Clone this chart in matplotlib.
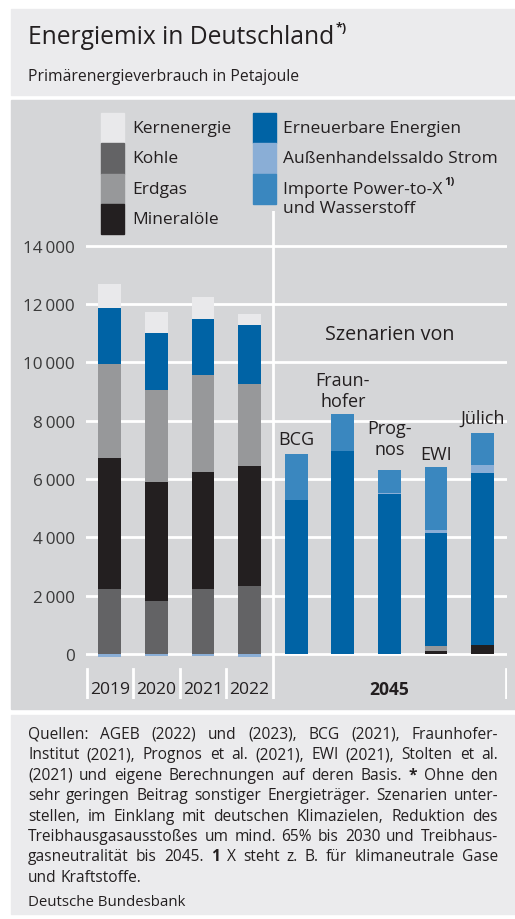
import matplotlib
matplotlib.use('Agg')
import matplotlib.pyplot as plt
from matplotlib.patches import Rectangle
from matplotlib.font_manager import FontProperties
import numpy as np

plt.rcParams['font.family'] = ['Open Sans', 'DejaVu Sans']

# data (Petajoule)
labels = ['2019', '2020', '2021', '2022', 'BCG', 'Fraun-\nhofer', 'Prog-\nnos', 'EWI', 'Jülich']
kohle = [2230, 1830, 2230, 2320, 0, 0, 0, 0, 0]
mineraloele = [4500, 4080, 4020, 4140, 0, 0, 0, 100, 320]
erdgas = [3210, 3140, 3320, 2790, 0, 0, 0, 160, 0]
erneuerbare = [1910, 1970, 1930, 2020, 5290, 6970, 5470, 3890, 5885]
strom = [-120, -65, -60, -100, 0, 0, 45, 115, 275]
ptx = [0, 0, 0, 0, 1570, 1250, 790, 2135, 1110]
kern = [830, 700, 750, 380, 0, 0, 0, 0, 0]

c_kern = '#e9e9eb'
c_kohle = '#636365'
c_erdgas = '#97989a'
c_oel = '#231f20'
c_ee = '#0063a5'
c_strom = '#8aaed6'
c_ptx = '#3a87bf'

txt = '#231f20'
W, H = 515, 920


def fx(x):
    return x / W


def fy(y):
    return 1 - y / H


fig = plt.figure(figsize=(W / 100, H / 100), dpi=100)
fig.patch.set_facecolor('white')

# background panels
for (x0, y0, x1, y1, col) in [(11, 10, 515, 96, '#ebebed'),
                              (11, 101, 515, 710, '#d5d6d8'),
                              (11, 716, 515, 915, '#ebebed')]:
    fig.add_artist(Rectangle((fx(x0), fy(y1)), fx(x1) - fx(x0), fy(y0) - fy(y1),
                             transform=fig.transFigure, color=col, zorder=0))

renderer = fig.canvas.get_renderer()


def text_w(s, size, weight='normal'):
    fp = FontProperties(family=['Open Sans', 'DejaVu Sans'], size=size, weight=weight)
    w, h, d = renderer.get_text_width_height_descent(s, fp, ismath=False)
    return w


# title
fig.text(fx(28), fy(37), 'Energiemix in Deutschland', fontsize=17.7, color=txt, va='center')
tw = text_w('Energiemix in Deutschland', 17.7)
fig.text(fx(28 + tw + 1), fy(29), '*)', fontsize=9, fontweight='bold', color=txt, va='center')
fig.text(fx(28), fy(77), 'Primärenergieverbrauch in Petajoule', fontsize=11.3, color=txt, va='center')

# axes
s = 408.3 / 14000
ax = fig.add_axes([fx(86), fy(700), fx(507) - fx(86), fy(212) - fy(700)])
ax.set_facecolor('none')
ax.set_xlim(-0.511, 8.523)
ax.set_ylim(-(700 - 655) / s, (655 - 212) / s)

x = np.arange(len(labels))
width = 0.49
bottom = np.zeros(len(labels))
for vals, col in [(kohle, c_kohle), (mineraloele, c_oel), (erdgas, c_erdgas),
                  (erneuerbare, c_ee), (strom, c_strom), (ptx, c_ptx), (kern, c_kern)]:
    v = np.array(vals, dtype=float)
    pos = np.where(v > 0, v, 0)
    neg = np.where(v < 0, v, 0)
    ax.bar(x, pos, width, bottom=bottom, color=col, zorder=3)
    if neg.any():
        ax.bar(x, neg, width, color=col, zorder=3)
    bottom += pos

ax.set_yticks(range(0, 14001, 2000))
ax.set_yticklabels([f'{v:,}'.replace(',', '\u2009') for v in range(0, 14001, 2000)],
                   fontsize=12.3, color='#3a3a3a')
ax.tick_params(axis='y', length=0, pad=8)
ax.set_xticks([])
ax.yaxis.grid(True, color='white', linewidth=2)
ax.set_axisbelow(True)
for sp in ax.spines.values():
    sp.set_visible(False)

# dividers
ax.axvline(3.5, color='white', linewidth=2, zorder=2)
sep_frac = (700 - 670) / (700 - 212)
for xs in [-0.5, 0.5, 1.5, 2.5, 8.5]:
    ax.axvline(xs, ymin=0, ymax=sep_frac, color='white', linewidth=2, zorder=2)

ylab = -(690 - 655) / s
for i in range(4):
    ax.text(i, ylab, labels[i], ha='center', va='center', fontsize=12.6, color=txt)
ax.text(6, ylab, '2045', ha='center', va='center', fontsize=12.6, fontweight='bold', color=txt)

# scenario labels
offsets = [0, 0, 0, 0, 4, 3, 9, 3, 4]
for i in range(4, 9):
    ax.annotate(labels[i], (i, bottom[i]), xytext=(0, offsets[i]), textcoords='offset points',
                ha='center', va='bottom', fontsize=13, color=txt, linespacing=1.2)
ax.text(6, (655 - 335) / s, 'Szenarien von', ha='center', va='center', fontsize=14.2, color=txt)

# legend
lfs = 12.5
left_items = [('Kernenergie', c_kern), ('Kohle', c_kohle), ('Erdgas', c_erdgas), ('Mineralöle', c_oel)]
for k, (name, col) in enumerate(left_items):
    y0 = 114 + 30.3 * k
    fig.add_artist(Rectangle((fx(101), fy(y0 + 30.3)), fx(124) - fx(101), fy(y0) - fy(y0 + 30.3),
                             transform=fig.transFigure, color=col, zorder=2))
    fig.text(fx(132), fy(y0 + 15), name, fontsize=lfs, color=txt, va='center')

right_items = [('Erneuerbare Energien', c_ee), ('Außenhandelssaldo Strom', c_strom),
               ('Importe Power-to-X', c_ptx)]
for k, (name, col) in enumerate(right_items):
    y0 = 114 + 30.3 * k
    fig.add_artist(Rectangle((fx(253), fy(y0 + 30.3)), fx(276) - fx(253), fy(y0) - fy(y0 + 30.3),
                             transform=fig.transFigure, color=col, zorder=2))
    fig.text(fx(283), fy(y0 + 15), name, fontsize=lfs, color=txt, va='center')
pw = text_w('Importe Power-to-X', lfs)
fig.text(fx(283 + pw + 2), fy(182), '1)', fontsize=8, fontweight='bold', color=txt, va='center')
fig.text(fx(283), fy(209), 'und Wasserstoff', fontsize=lfs, color=txt, va='center')

# footer, justified
footer_lines = [
    'Quellen: AGEB (2022) und (2023), BCG (2021), Fraunhofer-',
    'Institut (2021), Prognos et al. (2021), EWI (2021), Stolten et al.',
    '(2021) und eigene Berechnungen auf deren Basis. * Ohne den',
    'sehr geringen Beitrag sonstiger Energieträger. Szenarien unter-',
    'stellen, im Einklang mit deutschen Klimazielen, Reduktion des',
    'Treibhausgasausstoßes um mind. 65% bis 2030 und Treibhaus-',
    'gasneutralität bis 2045. 1 X steht z. B. für klimaneutrale Gase',
    'und Kraftstoffe.',
]
fs = 11.2
x0, x1 = 28, 498
for li, line in enumerate(footer_lines):
    y = 735 + 20.4 * li
    words = line.split(' ')
    weights = ['bold' if w in ('*', '1') else 'normal' for w in words]
    widths = [text_w(w, fs, wt) for w, wt in zip(words, weights)]
    if li < len(footer_lines) - 1:
        gap = (x1 - x0 - sum(widths)) / (len(words) - 1)
    else:
        gap = text_w('a b', fs) - text_w('ab', fs)
    xc = x0
    for w, wt, ww in zip(words, weights, widths):
        fig.text(fx(xc), fy(y), w, fontsize=fs, fontweight=wt, color=txt, va='center')
        xc += ww + gap
fig.text(fx(28), fy(903), 'Deutsche Bundesbank', fontsize=10.8, color=txt, va='center')

fig.savefig('out.png', dpi=100)
